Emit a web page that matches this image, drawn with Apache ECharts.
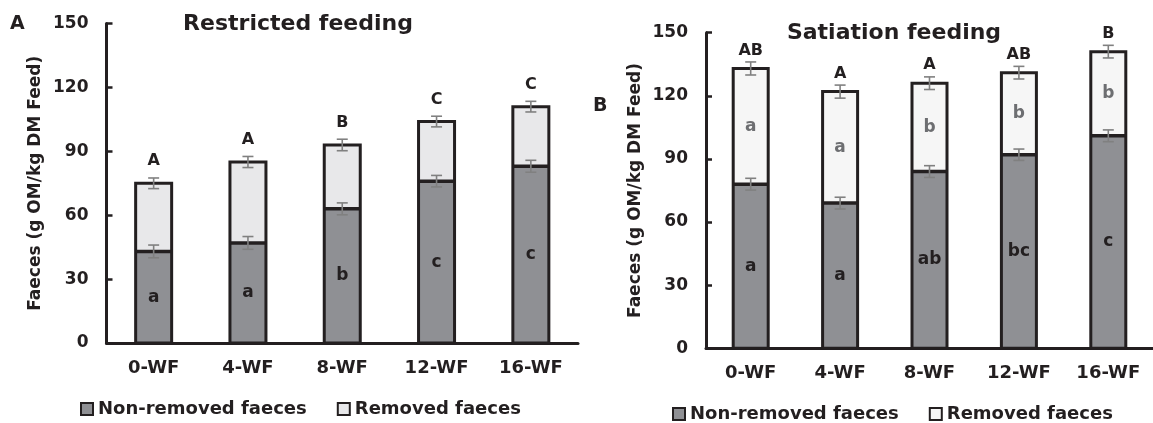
<!DOCTYPE html>
<html><head><meta charset="utf-8">
<script src="https://cdn.jsdelivr.net/npm/echarts@6/dist/echarts.min.js"></script>
<style>html,body{margin:0;padding:0;background:#fff}#c{width:1153px;height:423px}</style>
</head><body><div id="c"></div>
<script>
// ---- data ----
const categories = ['0-WF', '4-WF', '8-WF', '12-WF', '16-WF'];
const yTicks = [0, 30, 60, 90, 120, 150];

// Panel A: Restricted feeding
const restrictedNonRemoved = [43, 47, 63, 76, 83];
const restrictedRemoved = [32, 38, 30, 28, 28];
const restrictedNonRemovedErr = [3, 3, 2.8, 2.7, 2.8];
const restrictedTotalErr = [2.5, 2.6, 2.7, 2.5, 2.5];
const restrictedTotalLetters = ['A', 'A', 'B', 'C', 'C'];
const restrictedNonRemovedLetters = ['a', 'a', 'b', 'c', 'c'];
const restrictedRemovedLetters = ['', '', '', '', ''];

// Panel B: Satiation feeding
const satiationNonRemoved = [78, 69, 84, 92, 101];
const satiationRemoved = [55, 53, 42, 39, 40];
const satiationNonRemovedErr = [2.8, 2.8, 2.8, 2.7, 2.8];
const satiationTotalErr = [3.1, 3.1, 3, 3, 3];
const satiationTotalLetters = ['AB', 'A', 'A', 'AB', 'B'];
const satiationNonRemovedLetters = ['a', 'a', 'ab', 'bc', 'c'];
const satiationRemovedLetters = ['a', 'a', 'b', 'b', 'b'];

// ---- style ----
const FONT = 'DejaVu Sans';
const INK = '#231f20';
const GRAY = '#8f9094';
const LIGHT_A = '#e8e8ea';
const LIGHT_B = '#f6f6f6';
const ERR = '#808080';

function totals(a, b) { return a.map((v, i) => v + b[i]); }
function errData(base, errs) { return base.map((v, i) => [i, v, errs[i]]); }

function errSeries(idx, data) {
  return {
    type: 'custom', xAxisIndex: idx, yAxisIndex: idx, z: 10, silent: true,
    data: data,
    renderItem: function (params, api) {
      const x = api.value(0), y = api.value(1), e = api.value(2);
      const hi = api.coord([x, y + e]);
      const lo = api.coord([x, y - e]);
      const hw = 5.5;
      const st = { stroke: ERR, lineWidth: 1.6 };
      return {
        type: 'group',
        children: [
          { type: 'line', shape: { x1: hi[0], y1: hi[1], x2: lo[0], y2: lo[1] }, style: st },
          { type: 'line', shape: { x1: hi[0] - hw, y1: hi[1], x2: hi[0] + hw, y2: hi[1] }, style: st },
          { type: 'line', shape: { x1: lo[0] - hw, y1: lo[1], x2: lo[0] + hw, y2: lo[1] }, style: st }
        ]
      };
    }
  };
}

function outlineSeries(idx, nonRem, rem, barW) {
  const tot = totals(nonRem, rem);
  return {
    type: 'custom', xAxisIndex: idx, yAxisIndex: idx, z: 5, silent: true,
    data: nonRem.map((v, i) => [i, v, tot[i]]),
    renderItem: function (params, api) {
      const i = api.value(0);
      const base = api.coord([i, 0]);
      const mid = api.coord([i, api.value(1)]);
      const top = api.coord([i, api.value(2)]);
      const hw = barW / 2;
      return {
        type: 'group',
        children: [
          { type: 'rect', shape: { x: base[0] - hw, y: top[1], width: barW, height: base[1] - top[1] },
            style: { fill: null, stroke: INK, lineWidth: 3 } },
          { type: 'line', shape: { x1: base[0] - hw, y1: mid[1], x2: base[0] + hw, y2: mid[1] },
            style: { stroke: INK, lineWidth: 3.5 } }
        ]
      };
    }
  };
}

function xAxis(idx) {
  return {
    type: 'category', gridIndex: idx, data: categories,
    axisLine: { show: true, lineStyle: { color: INK, width: 3 } },
    axisTick: { show: false },
    axisLabel: { color: INK, fontFamily: FONT, fontWeight: 'bold', fontSize: 18, margin: 16 }
  };
}
function yAxis(idx, gap) {
  return {
    type: 'value', gridIndex: idx, min: yTicks[0], max: yTicks[yTicks.length - 1],
    interval: yTicks[1] - yTicks[0],
    name: 'Faeces (g OM/kg DM Feed)', nameLocation: 'middle', nameGap: gap,
    nameTextStyle: { color: INK, fontFamily: FONT, fontWeight: 'bold', fontSize: 17 },
    axisLine: { show: true, lineStyle: { color: INK, width: 3 } },
    axisTick: { show: true, inside: true, length: 6, lineStyle: { color: INK, width: 2.5 } },
    splitLine: { show: false },
    axisLabel: { color: INK, fontFamily: FONT, fontWeight: 'bold', fontSize: 17, margin: 18 }
  };
}

function barPair(idx, nonRem, rem, light, topL, nonL, remL, remColor, barW, topDist) {
  return [
    {
      name: 'Non-removed faeces', type: 'bar', stack: 's' + idx,
      xAxisIndex: idx, yAxisIndex: idx, barWidth: barW, data: nonRem,
      itemStyle: { color: GRAY },
      label: {
        show: true, position: 'inside', color: INK, fontFamily: FONT, fontWeight: 'bold', fontSize: 17,
        formatter: p => nonL[p.dataIndex]
      }
    },
    {
      name: 'Removed faeces', type: 'bar', stack: 's' + idx,
      xAxisIndex: idx, yAxisIndex: idx, barWidth: barW, data: rem,
      itemStyle: { color: light },
      label: {
        show: true, position: 'inside', color: remColor, fontFamily: FONT, fontWeight: 'bold', fontSize: 17,
        formatter: p => remL[p.dataIndex]
      }
    },
    {
      name: 'top-letters', type: 'bar', stack: 's' + idx,
      xAxisIndex: idx, yAxisIndex: idx, barWidth: barW, data: rem.map(() => 0),
      itemStyle: { color: 'transparent' }, silent: true,
      label: {
        show: true, position: 'top', distance: topDist, color: INK, fontFamily: FONT, fontWeight: 'bold', fontSize: 16,
        formatter: p => topL[p.dataIndex]
      }
    }
  ];
}

function legendData(light) {
  return [
    { name: 'Non-removed faeces', itemStyle: { color: GRAY, borderColor: INK, borderWidth: 2 } },
    { name: 'Removed faeces', itemStyle: { color: light, borderColor: INK, borderWidth: 2 } }
  ];
}
const legendText = { color: INK, fontFamily: FONT, fontWeight: 'bold', fontSize: 18, lineHeight: 18 };

const chart = echarts.init(document.getElementById('c'), null, { renderer: 'canvas' });
chart.setOption({
  animation: false,
  backgroundColor: '#ffffff',
  grid: [
    { left: 106.5, top: 23.6, width: 471.5, height: 319.4 },
    { left: 706, top: 32.7, width: 456.5, height: 315.6 }
  ],
  xAxis: [xAxis(0), xAxis(1)],
  yAxis: [yAxis(0, 62), yAxis(1, 62)],
  legend: [
    {
      left: 80, top: 400, itemWidth: 12, itemHeight: 12, itemGap: 30, icon: 'rect', selectedMode: false,
      data: legendData(LIGHT_A), textStyle: legendText, padding: 0
    },
    {
      left: 672, top: 405, itemWidth: 12, itemHeight: 12, itemGap: 30, icon: 'rect', selectedMode: false,
      data: legendData(LIGHT_B), textStyle: legendText, padding: 0
    }
  ],
  graphic: [
    { type: 'text', left: 10, top: 15, style: { text: 'A', font: 'bold 19px "DejaVu Sans"', fill: INK } },
    { type: 'text', left: 593, top: 97, style: { text: 'B', font: 'bold 19px "DejaVu Sans"', fill: INK } },
    { type: 'text', x: 298, y: 24, style: { text: 'Restricted feeding', font: 'bold 22px "DejaVu Sans"', fill: INK, textAlign: 'center', textVerticalAlign: 'middle' } },
    { type: 'text', x: 894, y: 33, style: { text: 'Satiation feeding', font: 'bold 22px "DejaVu Sans"', fill: INK, textAlign: 'center', textVerticalAlign: 'middle' } }
  ],
  series: [
    ...barPair(0, restrictedNonRemoved, restrictedRemoved, LIGHT_A,
      restrictedTotalLetters, restrictedNonRemovedLetters, restrictedRemovedLetters, '#6d6e71', 36, 14),
    outlineSeries(0, restrictedNonRemoved, restrictedRemoved, 36),
    errSeries(0, errData(restrictedNonRemoved, restrictedNonRemovedErr)),
    errSeries(0, errData(totals(restrictedNonRemoved, restrictedRemoved), restrictedTotalErr)),
    ...barPair(1, satiationNonRemoved, satiationRemoved, LIGHT_B,
      satiationTotalLetters, satiationNonRemovedLetters, satiationRemovedLetters, '#6d6e71', 35, 10),
    outlineSeries(1, satiationNonRemoved, satiationRemoved, 35),
    errSeries(1, errData(satiationNonRemoved, satiationNonRemovedErr)),
    errSeries(1, errData(totals(satiationNonRemoved, satiationRemoved), satiationTotalErr))
  ]
});
</script>
</body></html>
